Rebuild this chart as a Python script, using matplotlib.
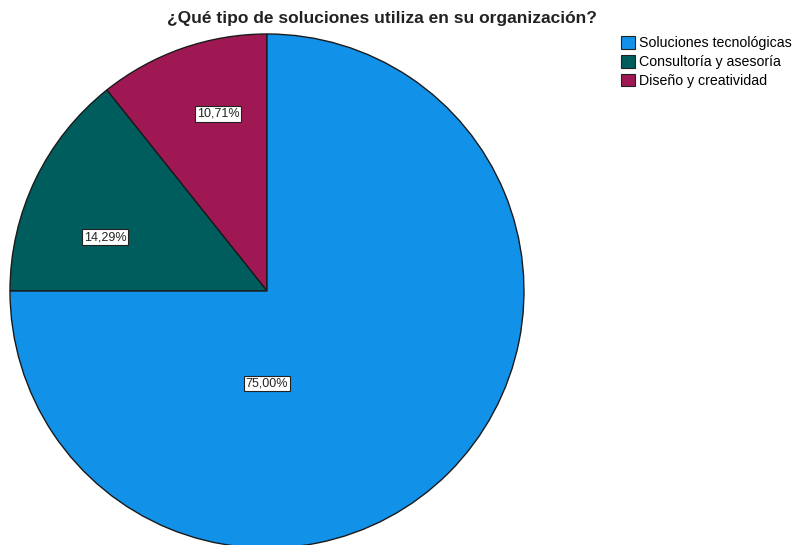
import matplotlib
matplotlib.use("Agg")
import matplotlib.pyplot as plt
from matplotlib.patches import Patch

plt.rcParams['font.family'] = ['Liberation Sans', 'DejaVu Sans']

# data, in drawing order (counterclockwise from the top)
categories = ["Diseño y creatividad", "Consultoría y asesoría", "Soluciones tecnológicas"]
percents = [10.71, 14.29, 75.00]
colors = ["#9f1853", "#005d5d", "#1192e8"]
pct_labels = ["10,71%", "14,29%", "75,00%"]
label_pos = [(-0.19, 0.69), (-0.63, 0.21), (0.0, -0.36)]

legend_order = ["Soluciones tecnológicas", "Consultoría y asesoría", "Diseño y creatividad"]

fig = plt.figure(figsize=(7.96, 5.45), dpi=100)
ax = fig.add_axes([10/796, -3/545, 514/796, 514/545])

wedges, _ = ax.pie(percents, colors=colors, startangle=90, counterclock=True,
                   radius=1.0, wedgeprops=dict(edgecolor="#1a1a1a", linewidth=1.0))
ax.set_xlim(-1.0, 1.0)
ax.set_ylim(-1.0, 1.0)
ax.set_aspect("auto")
ax.axis("off")

for (x, y), txt in zip(label_pos, pct_labels):
    ax.text(x, y, txt, ha="center", va="center", fontsize=9, color="#222222",
            bbox=dict(boxstyle="square,pad=0.15", facecolor="white", edgecolor="#222222", linewidth=0.8))

fig.text(382/796, 1 - 18/545, "¿Qué tipo de soluciones utiliza en su organización?",
         ha="center", va="center", fontsize=12.5, fontweight="bold", color="#222222")

handles = []
for name in legend_order:
    i = categories.index(name)
    handles.append(Patch(facecolor=colors[i], edgecolor="#222222", linewidth=0.8, label=name))
fig.legend(handles=handles, loc="upper left", bbox_to_anchor=(621/796, 1 - 36/545),
           frameon=False, fontsize=10.2, handlelength=1.0, handleheight=1.0,
           handletextpad=0.3, labelspacing=0.33, borderaxespad=0, borderpad=0)

fig.savefig("out.png", dpi=100)
